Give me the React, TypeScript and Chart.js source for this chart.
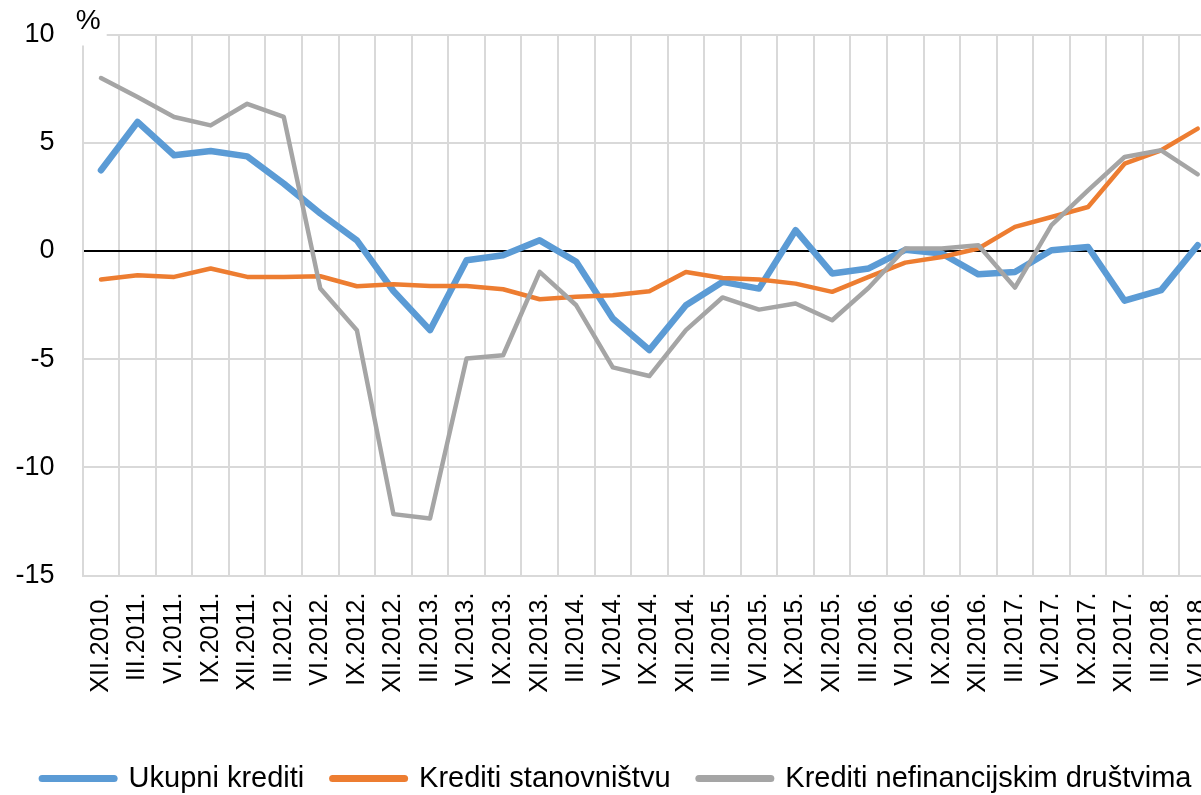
import React, { useEffect, useRef } from "react";
import { Chart, registerables } from "chart.js";

Chart.register(...registerables);

const categories = [
  "XII.2010.", "III.2011.", "VI.2011.", "IX.2011.", "XII.2011.", "III.2012.", "VI.2012.", "IX.2012.",
  "XII.2012.", "III.2013.", "VI.2013.", "IX.2013.", "XII.2013.", "III.2014.", "VI.2014.", "IX.2014.",
  "XII.2014.", "III.2015.", "VI.2015.", "IX.2015.", "XII.2015.", "III.2016.", "VI.2016.", "IX.2016.",
  "XII.2016.", "III.2017.", "VI.2017.", "IX.2017.", "XII.2017.", "III.2018.", "VI.2018.",
];

const ukupniKrediti = [
  3.73, 5.96, 4.42, 4.62, 4.37, 3.11, 1.73, 0.49, -1.85, -3.66, -0.43, -0.2, 0.49, -0.5, -3.12, -4.58,
  -2.51, -1.43, -1.74, 0.96, -1.04, -0.81, 0.05, -0.12, -1.08, -0.97, 0.03, 0.18, -2.3, -1.81, 0.26,
];

const kreditiStanovnistvu = [
  -1.32, -1.12, -1.2, -0.81, -1.2, -1.2, -1.17, -1.63, -1.54, -1.62, -1.62, -1.77, -2.23, -2.12, -2.05, -1.86,
  -0.97, -1.25, -1.32, -1.51, -1.89, -1.2, -0.54, -0.28, 0.11, 1.11, 1.57, 2.03, 4.03, 4.65, 5.65,
];

const kreditiNefinancijskim = [
  7.99, 7.11, 6.19, 5.8, 6.8, 6.19, -1.74, -3.66, -12.16, -12.36, -4.97, -4.82, -0.97, -2.51, -5.38, -5.78,
  -3.66, -2.15, -2.71, -2.43, -3.2, -1.7, 0.11, 0.11, 0.26, -1.69, 1.19, 2.8, 4.34, 4.65, 3.54,
];

const seriesNames = ["Ukupni krediti", "Krediti stanovništvu", "Krediti nefinancijskim društvima"];
const seriesColors = ["#5b9bd5", "#ed7d31", "#a5a5a5"];
const seriesWidths = [6.5, 4.5, 4.5];

const yMin = -15;
const yMax = 10;
const yStep = 5;
const unitLabel = "%";

const FONT = "'Liberation Sans', Arial, sans-serif";

const percentPlugin = {
  id: "percentLabel",
  afterDraw(chart: any) {
    const ctx = chart.ctx;
    const area = chart.chartArea;
    ctx.save();
    ctx.fillStyle = "#ffffff";
    ctx.fillRect(area.left - 14, 0, 38, area.top + 11);
    ctx.fillStyle = "#000000";
    ctx.font = `28px ${FONT}`;
    ctx.textAlign = "center";
    ctx.textBaseline = "middle";
    ctx.fillText(unitLabel, area.left + 5.5, 21);
    ctx.restore();
  },
};

export default function App() {
  const canvasRef = useRef<HTMLCanvasElement | null>(null);

  useEffect(() => {
    const canvas = canvasRef.current;
    if (!canvas) return;
    const seriesData = [ukupniKrediti, kreditiStanovnistvu, kreditiNefinancijskim];
    const chart = new Chart(canvas, {
      type: "line",
      data: {
        labels: categories,
        datasets: seriesData.map((d, i) => ({
          label: seriesNames[i],
          data: d,
          yAxisID: "y",
          borderColor: seriesColors[i],
          backgroundColor: seriesColors[i],
          borderWidth: seriesWidths[i],
          pointRadius: 0,
          pointHoverRadius: 0,
          tension: 0,
          borderJoinStyle: "round" as const,
          borderCapStyle: "round" as const,
          fill: false,
          order: 3 - i,
        })),
      },
      options: {
        responsive: false,
        animation: false,
        devicePixelRatio: 1,
        layout: { padding: { top: 34.5, left: 0, right: 6.4, bottom: 0 } },
        plugins: {
          tooltip: { enabled: false },
          legend: {
            position: "bottom",
            labels: {
              usePointStyle: true,
              pointStyleWidth: 72,
              padding: 28.3,
              color: "#000000",
              font: { family: FONT, size: 29 },
              generateLabels: () =>
                seriesNames.map((name, i) => ({
                  text: name,
                  fillStyle: seriesColors[i],
                  strokeStyle: seriesColors[i],
                  lineWidth: 7,
                  lineCap: "round",
                  pointStyle: "line",
                  hidden: false,
                  datasetIndex: i,
                  fontColor: "#000000",
                })),
            },
          },
        },
        scales: {
          x: {
            type: "category",
            offset: true,
            grid: { offset: true, color: "#d9d9d9", lineWidth: 2, drawTicks: false },
            border: { display: false },
            ticks: {
              autoSkip: false,
              minRotation: 90,
              maxRotation: 90,
              padding: 17,
              color: "#000000",
              font: { family: FONT, size: 25 },
            },
            afterFit: (s: any) => {
              s.height = 160.1;
              s.paddingLeft = 0;
              s.paddingRight = 0;
            },
          },
          y: {
            position: "left",
            min: yMin,
            max: yMax,
            grid: {
              color: (c: any) => (c.tick && c.tick.value === 0 ? "#000000" : "#d9d9d9"),
              lineWidth: 2,
              drawTicks: false,
            },
            border: { display: true, color: "#d9d9d9", width: 2 },
            ticks: {
              stepSize: yStep,
              padding: 28.2,
              color: "#000000",
              font: { family: FONT, size: 27 },
            },
            afterFit: (s: any) => {
              s.width = 82.7;
              s.paddingTop = 0;
              s.paddingBottom = 0;
            },
          },
          yRight: {
            type: "linear",
            position: "right",
            display: true,
            grid: { display: false, drawTicks: false },
            border: { display: false },
            ticks: { display: false },
            afterFit: (s: any) => {
              s.width = 17.6;
              s.paddingTop = 0;
              s.paddingBottom = 0;
            },
          },
        },
      },
      plugins: [percentPlugin],
    });
    return () => chart.destroy();
  }, []);

  return (
    <div
      style={{
        position: "absolute",
        left: 0,
        top: 0,
        width: 1201,
        height: 795,
        overflow: "hidden",
        background: "#ffffff",
      }}
    >
      <canvas ref={canvasRef} width={1240} height={803} style={{ display: "block", width: 1240, height: 803 }} />
    </div>
  );
}
